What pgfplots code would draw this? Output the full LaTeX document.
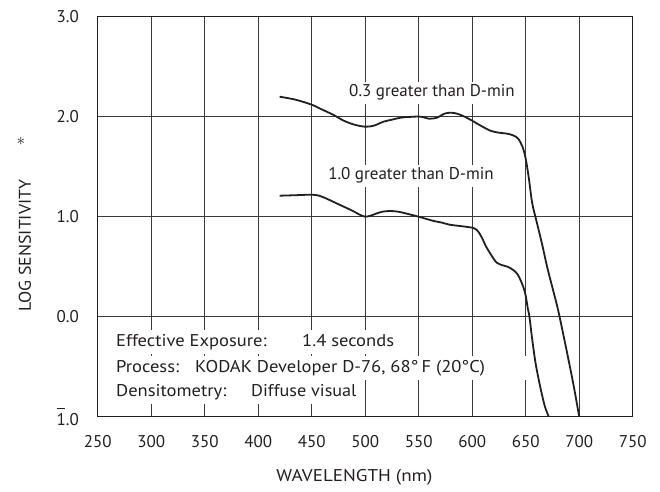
\documentclass[border=0pt]{standalone}
\usepackage{pgfplots}
\pgfplotsset{compat=1.18}
\usepackage{fontspec}
\setmainfont{PT Sans}
\definecolor{ink}{HTML}{231F20}
\definecolor{gridc}{HTML}{3A3A3A}
\begin{document}
\fontsize{17bp}{20bp}\selectfont
\begin{tikzpicture}
\path (-97.7bp,-66.3bp) rectangle (562.3bp,416.7bp);
\begin{axis}[
  at={(0,0)}, anchor=south west,
  scale only axis, width=535bp, height=400bp,
  xmin=250, xmax=750, ymin=-1, ymax=3,
  xtick={250,300,350,400,450,500,550,600,650,700,750},
  xticklabels={250,300,350,400,450,500,550,600,650,700,750},
  ytick={-1,0,1,2,3},
  yticklabels={{\rlap{\raisebox{0.95em}{\rule{0.5em}{0.7bp}}}1.0},0.0,1.0,2.0,3.0},
  xticklabel style={yshift=-13bp, text=ink},
  yticklabel style={xshift=-13bp, text=ink},
  grid=major, major grid style={gridc, line width=0.9bp},
  axis line style={ink, line width=1.2bp},
  tick style={draw=none},
  clip=false,
]
\node[fill=white, text=ink, inner sep=3bp] at (axis cs:562.4,2.24) {0.3 greater than D-min};
\node[fill=white, text=ink, inner sep=3bp] at (axis cs:542.8,1.41) {1.0 greater than D-min};
\node[fill=white, text=ink, anchor=west, inner xsep=0bp, inner ysep=4.5bp] at (axis cs:267.1,-0.253) {\makebox[186bp][l]{\scalebox{1.09}[1]{Effective Exposure:}}\scalebox{1.09}[1]{1.4 seconds}};
\node[fill=white, text=ink, anchor=west, inner xsep=0bp, inner ysep=4.5bp] at (axis cs:267.1,-0.513) {\makebox[420bp][l]{\makebox[79bp][l]{\scalebox{1.09}[1]{Process:}}\scalebox{1.09}[1]{KODAK Developer D-76, 68°\,F (20°C)}}};
\node[fill=white, text=ink, anchor=west, inner xsep=0bp, inner ysep=4.5bp] at (axis cs:267.1,-0.753) {\makebox[135bp][l]{\scalebox{1.09}[1]{Densitometry:}}\scalebox{1.07}[1]{Diffuse visual}};
\addplot[ink, line width=1.8bp, smooth, tension=0.5] coordinates {
(420,2.20) (435,2.17) (450,2.12) (460,2.07) (470,2.02) (480,1.96) (490,1.92)
(500,1.90) (508,1.91) (517,1.95) (525,1.97) (533,1.99) (545,2.00) (552,2.00)
(560,1.98) (567,1.99) (574,2.03) (580,2.04) (586,2.03) (593,2.00) (600,1.96)
(608,1.91) (617,1.86) (625,1.84) (633,1.83) (639,1.81) (643,1.78) (647,1.70)
(650,1.58) (653,1.38) (656,1.14) (660,0.96) (665,0.74) (670,0.50) (675,0.29)
(680,0.08) (685,-0.17) (690,-0.43) (695,-0.70) (700,-1.00)
};
\addplot[ink, line width=1.8bp, smooth, tension=0.5] coordinates {
(420,1.21) (435,1.215) (450,1.22) (457,1.21) (464,1.18) (472,1.14) (480,1.10)
(488,1.06) (495,1.02) (500,1.00) (505,1.01) (510,1.03) (516,1.05) (523,1.057)
(531,1.05) (539,1.03) (550,1.00) (563,0.96) (572,0.94) (579,0.92) (590,0.905)
(600,0.89) (604,0.87) (607,0.83) (610,0.77) (613,0.70) (617,0.63) (620,0.58)
(623,0.54) (628,0.515) (633,0.50) (638,0.47) (642,0.43) (645,0.37) (648,0.29)
(650,0.21) (652,0.08) (653.5,0.0) (656,-0.22) (659,-0.45) (662,-0.62)
(665,-0.77) (668,-0.90) (671.5,-1.0)
};
\node[text=ink] at (axis cs:490,-1) [yshift=-61bp] {\scalebox{1.12}[1]{WAVELENGTH (nm)}};
\node[text=ink, xshift=-72.7bp, rotate=90] at (axis cs:250,0.71) {\scalebox{1.05}[1]{LOG SENSITIVITY}};
\node[text=ink, xshift=-76.7bp] at (axis cs:250,1.75) {$\ast$};
\end{axis}
\end{tikzpicture}
\end{document}
